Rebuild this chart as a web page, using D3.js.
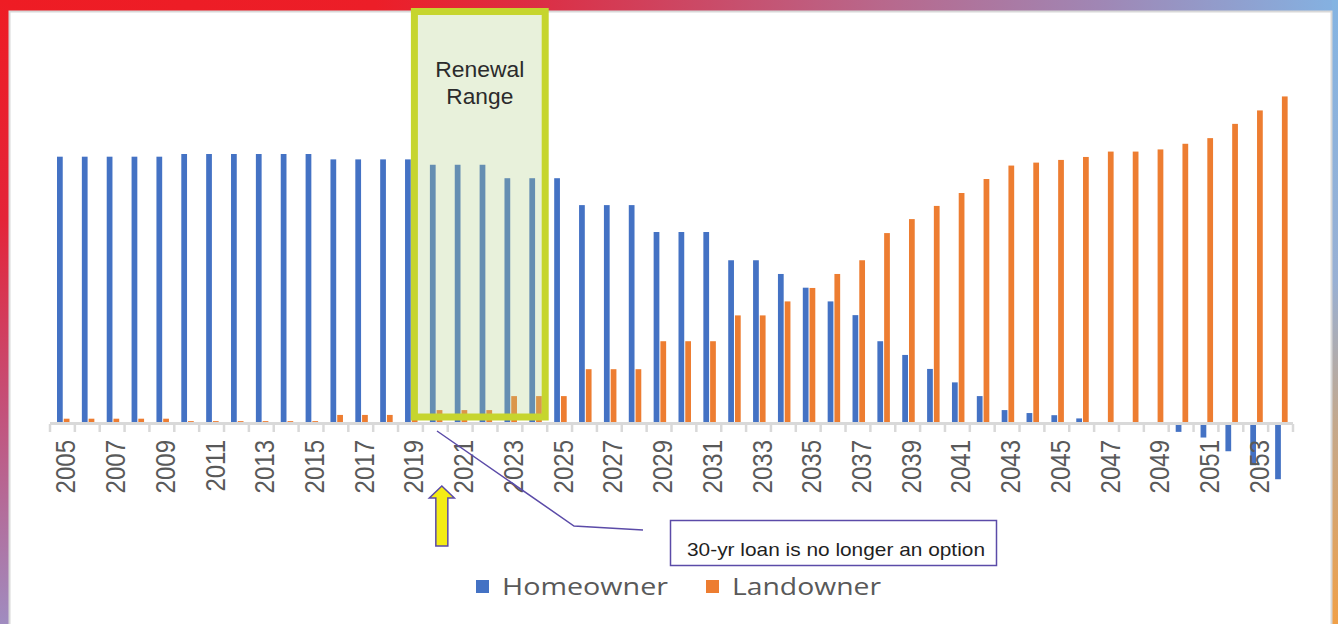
<!DOCTYPE html>
<html>
<head>
<meta charset="utf-8">
<script src="https://cdn.jsdelivr.net/npm/d3@7"></script>
<style>
  body { margin: 0; background: #fff; overflow: hidden; }
  svg { display: block; }
</style>
</head>
<body>
<svg id="chart"></svg>
<script>
// categories and series (Homeowner 2010 = 100)
var years = [2005, 2006, 2007, 2008, 2009, 2010, 2011, 2012, 2013, 2014,
             2015, 2016, 2017, 2018, 2019, 2020, 2021, 2022, 2023, 2024,
             2025, 2026, 2027, 2028, 2029, 2030, 2031, 2032, 2033, 2034,
             2035, 2036, 2037, 2038, 2039, 2040, 2041, 2042, 2043, 2044,
             2045, 2046, 2047, 2048, 2049, 2050, 2051, 2052, 2053, 2054];
var homeowner = [99, 99, 99, 99, 99, 100, 100, 100, 100, 100,
                 100, 98, 98, 98, 98, 96, 96, 96, 91, 91,
                 91, 81, 81, 81, 71, 71, 71, 60.5, 60.5, 55.4,
                 50.3, 45.2, 40.1, 30.4, 25.3, 20.1, 15.1, 10, 4.8, 3.7,
                 2.9, 1.7, 0, 0, -0.4, -3.3, -5.4, -10.5, -15.7, -20.9];
var landowner = [1.6, 1.6, 1.6, 1.6, 1.6, 0.7, 0.7, 0.7, 0.7, 0.7,
                 0.7, 3, 3, 3, 3, 4.8, 4.8, 4.8, 10, 10,
                 10, 20, 20, 20, 30.4, 30.4, 30.4, 40, 40, 45.2,
                 50.2, 55.4, 60.5, 70.6, 75.8, 80.7, 85.5, 90.7, 95.7, 96.8,
                 97.8, 98.9, 100.9, 100.9, 101.7, 103.8, 105.9, 111.2, 116.2, 121.4];
var seriesNames = ["Homeowner", "Landowner"];
var seriesColors = ["#4472c4", "#ed7d31"];
var tickYears = years.filter(function(d, i) { return i % 2 === 0; });
var renewalYears = [2020, 2024];
var arrowYear = 2020;
var calloutText = "30-yr loan is no longer an option";

var W = 1338, H = 624;
var svg = d3.select("#chart").attr("width", W).attr("height", H);
var defs = svg.append("defs");

function grad(id, x2, y2, stops) {
  var g = defs.append("linearGradient").attr("id", id)
    .attr("x1", 0).attr("y1", 0).attr("x2", x2).attr("y2", y2);
  stops.forEach(function(s) { g.append("stop").attr("offset", s[0]).attr("stop-color", s[1]); });
}
grad("gTop", 1, 0, [[0, "#ee1c24"], [0.28, "#ec1e28"], [0.4, "#dc2e44"], [0.66, "#b8688c"], [0.82, "#a086b4"], [1, "#84b2e2"]]);
grad("gLeft", 0, 1, [[0, "#ee1c24"], [0.35, "#e42438"], [0.65, "#c45078"], [1, "#a08cc0"]]);
grad("gRight", 0, 1, [[0, "#84b4e2"], [0.45, "#98b0d4"], [0.68, "#c4a88c"], [1, "#f0a048"]]);

// frame
svg.append("rect").attr("x", 0).attr("y", 0).attr("width", W).attr("height", 11).attr("fill", "url(#gTop)");
svg.append("rect").attr("x", 0).attr("y", 0).attr("width", 9).attr("height", H).attr("fill", "url(#gLeft)");
svg.append("rect").attr("x", 1332).attr("y", 0).attr("width", 6).attr("height", H).attr("fill", "url(#gRight)");
svg.append("rect").attr("x", 9.5).attr("y", 11.5).attr("width", 1322).attr("height", H + 10)
  .attr("fill", "#fff").attr("stroke", "#d8d8d8").attr("stroke-width", 2);

// scales
var x = d3.scaleBand().domain(years).range([50, 1293]).padding(0);
var xs = d3.scaleBand().domain(seriesNames).range([7, 19.5]).paddingInner(0.15);
var y = d3.scaleLinear().domain([0, 100]).range([423, 154]);

var rows = years.map(function(yr, i) { return { year: yr, values: [homeowner[i], landowner[i]] }; });

var g = svg.append("g");
var groups = g.selectAll(".cat").data(rows).enter().append("g")
  .attr("transform", function(d) { return "translate(" + x(d.year) + ",0)"; });
groups.selectAll("rect").data(function(d) {
    return d.values.map(function(v, k) { return { key: seriesNames[k], v: v, c: seriesColors[k] }; });
  }).enter().append("rect")
  .attr("x", function(d) { return xs(d.key); })
  .attr("width", xs.bandwidth())
  .attr("y", function(d) { return Math.min(y(d.v), y(0)); })
  .attr("height", function(d) { return Math.abs(y(d.v) - y(0)); })
  .attr("fill", function(d) { return d.c; });

// category axis: line, ticks between categories, rotated labels
g.append("line").attr("x1", 50).attr("x2", 1293).attr("y1", 423.5).attr("y2", 423.5)
  .attr("stroke", "#d9d9d9").attr("stroke-width", 3);
g.selectAll(".tk").data(years.concat(["end"])).enter().append("line")
  .attr("x1", function(d) { return d === "end" ? x.range()[1] : x(d); })
  .attr("x2", function(d) { return d === "end" ? x.range()[1] : x(d); })
  .attr("y1", 424).attr("y2", 432).attr("stroke", "#d9d9d9").attr("stroke-width", 2.5);

var axis = d3.axisBottom(x).tickValues(tickYears).tickSize(0).tickFormat(d3.format("d"));
var ax = g.append("g").attr("transform", "translate(0,440)").call(axis);
ax.select(".domain").remove();
ax.selectAll("text")
  .attr("transform", "translate(13,0) scale(1.12,1) rotate(-90)")
  .attr("x", 0).attr("y", 0).attr("dy", 0)
  .attr("text-anchor", "end")
  .attr("fill", "#595959")
  .style("font-family", "'Liberation Sans', Arial, sans-serif")
  .style("font-size", "24px");

// renewal range box
var rx0 = x(renewalYears[0]) - 8.5, rx1 = x(renewalYears[1]) + x.bandwidth() - 2;
svg.append("rect").attr("x", rx0).attr("y", 11.5).attr("width", rx1 - rx0).attr("height", 405.5)
  .attr("fill", "#b4d088").attr("fill-opacity", 0.3)
  .attr("stroke", "#c6d52e").attr("stroke-width", 7);
var rc = (rx0 + rx1) / 2;
[["Renewal", 77, 89], ["Range", 104, 67]].forEach(function(t) {
  svg.append("text").attr("x", rc).attr("y", t[1]).attr("text-anchor", "middle")
    .attr("textLength", t[2]).attr("lengthAdjust", "spacingAndGlyphs")
    .attr("fill", "#2b2b2b").style("font-family", "'Liberation Sans', Arial, sans-serif")
    .style("font-size", "22px").text(t[0]);
});

// callout line and box
var purple = "#5b4ba8";
svg.append("path").attr("d", "M437,431 L574,526 L643,530")
  .attr("fill", "none").attr("stroke", purple).attr("stroke-width", 1.5);
svg.append("rect").attr("x", 670.5).attr("y", 520.5).attr("width", 326).attr("height", 45)
  .attr("fill", "#fff").attr("stroke", purple).attr("stroke-width", 1.5);
svg.append("text").attr("x", 687).attr("y", 556).attr("textLength", 298).attr("lengthAdjust", "spacingAndGlyphs")
  .attr("fill", "#1f1f1f").style("font-family", "'Liberation Sans', Arial, sans-serif")
  .style("font-size", "19px").text(calloutText);

// yellow arrow
var ax0 = x(arrowYear) + x.bandwidth() / 2 + 6.5;
svg.append("path")
  .attr("d", "M" + ax0 + ",486 L" + (ax0 + 12.5) + ",498 L" + (ax0 + 6) + ",498 L" + (ax0 + 6) + ",546 L" +
    (ax0 - 6) + ",546 L" + (ax0 - 6) + ",498 L" + (ax0 - 12.5) + ",498 Z")
  .attr("fill", "#f4ec14").attr("stroke", purple).attr("stroke-width", 1.5);

// legend
var legend = svg.append("g").selectAll("g").data(seriesNames).enter().append("g")
  .attr("transform", function(d, i) { return "translate(" + (i === 0 ? 476 : 706) + ",580)"; });
legend.append("rect").attr("width", 13).attr("height", 13)
  .attr("fill", function(d, i) { return seriesColors[i]; });
legend.append("text").attr("x", 26).attr("y", 15)
  .attr("textLength", function(d, i) { return i === 0 ? 166 : 149; })
  .attr("lengthAdjust", "spacingAndGlyphs")
  .attr("fill", "#595959").style("font-family", "'Open Sans', 'DejaVu Sans', sans-serif")
  .style("font-size", "23px").text(function(d) { return d; });
</script>
</body>
</html>
